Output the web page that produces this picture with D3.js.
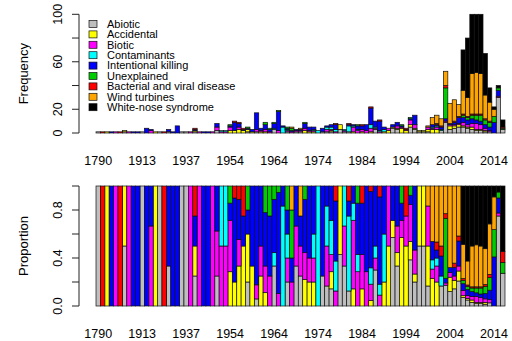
<!DOCTYPE html>
<html>
<head>
<meta charset="utf-8">
<script src="https://cdn.jsdelivr.net/npm/d3@7"></script>
<style>
  body { margin: 0; background: #fff; }
  text { font-family: "Liberation Sans", Arial, sans-serif; fill: #000; }
</style>
</head>
<body>
<svg id="chart" width="512" height="341"></svg>
<script>
// causes of mortality, bottom to top of each stack
const categories = ['Abiotic', 'Accidental', 'Biotic', 'Contaminants', 'Intentional killing',
  'Unexplained', 'Bacterial and viral disease', 'Wind turbines', 'White-nose syndrome'];
const colors = ['#bebebe', '#ffff00', '#ff00ff', '#00ffff', '#0000ff', '#00cd00', '#ff0000', '#ffa500', '#000000'];

const years = [1790, 1834, 1860, 1874, 1885, 1890, 1896, 1900, 1905, 1909,
  1913, 1915, 1918, 1921, 1925, 1927, 1929, 1931, 1933, 1935,
  1937, 1939, 1941, 1943, 1945, 1947, 1949, 1950, 1951, 1952,
  1954, 1955, 1956, 1957, 1958, 1959, 1960, 1961, 1962, 1963,
  1964, 1965, 1966, 1967, 1968, 1969, 1970, 1971, 1972, 1973,
  1974, 1975, 1976, 1977, 1978, 1979, 1980, 1981, 1982, 1983,
  1984, 1985, 1986, 1987, 1988, 1989, 1990, 1991, 1992, 1993,
  1994, 1995, 1996, 1997, 1998, 1999, 2000, 2001, 2002, 2003,
  2004, 2005, 2006, 2007, 2008, 2009, 2010, 2011, 2012, 2013,
  2014, 2015, 2016];
const tickYears = [1790, 1913, 1937, 1954, 1964, 1974, 1984, 1994, 2004, 2014];

const abiotic = [1,0,0,0,0,0,1,0,0,0, 1,0,0,0,1,0,1,0,0,1, 1,0,1,0,0,0,0,2,0,0,
  0,0,0,0,1,0,1,0,0,0, 3,0,0,1,0,1,1,0,0,0, 0,1,1,1,0,3,1,1,0,0,
  0,0,0,3,0,0,0,4,3,0, 0,5,3,1,1,1,0,0,2,9, 3,4,5,5,4,3,2,2,1,1, 0,30,3];
const accidental = [0,0,1,0,0,0,1,0,0,0, 0,0,0,1,0,0,0,0,0,0, 0,0,1,0,0,0,0,0,0,0,
  2,2,3,2,2,1,0,1,1,0, 0,0,0,0,0,0,0,2,1,1, 0,0,0,1,0,4,0,0,1,0,
  1,0,1,0,0,1,2,1,1,4, 2,2,1,1,1,2,3,3,0,0, 3,2,2,1,1,2,1,1,1,0, 0,0,0];
const biotic = [0,0,0,0,1,0,0,1,0,0, 0,0,2,0,0,0,0,0,0,0, 0,1,0,1,0,0,1,3,1,1,
  3,0,2,0,0,0,2,1,2,1, 0,2,0,1,1,1,1,2,1,1, 0,0,2,1,1,0,1,0,4,2,
  2,2,3,1,1,0,2,0,2,1, 1,4,3,0,0,2,1,2,0,1, 1,1,1,3,2,3,5,4,2,1, 0,1,0];
const contaminants = [0,0,0,0,0,0,0,0,0,0, 0,0,0,0,0,0,0,0,0,0, 0,0,0,0,0,0,0,0,1,1,
  0,0,0,0,0,0,0,0,0,0, 1,0,5,1,0,0,0,0,0,1, 2,0,2,2,2,0,1,5,1,1,
  0,0,3,1,1,2,0,0,0,0, 0,0,0,0,0,0,1,1,1,0, 0,0,0,0,0,0,0,0,0,0, 0,0,0];
const intentional = [0,0,0,1,0,0,0,0,1,1, 0,4,1,0,0,0,2,1,6,0, 0,0,1,0,1,1,0,3,0,0,
  1,7,3,1,1,2,14,2,4,2, 4,16,1,1,1,1,1,4,3,2, 0,3,1,2,4,0,0,1,1,3,
  3,5,14,5,8,2,0,2,3,1, 0,1,8,0,0,0,2,1,2,2, 1,2,5,4,4,4,3,3,3,3, 9,5,0];
const unexplained = [0,0,0,0,0,0,0,0,0,0, 0,0,0,0,0,0,0,0,0,0, 0,0,0,0,0,0,0,0,0,0,
  1,0,0,0,1,0,0,0,2,1, 1,1,0,1,2,0,0,1,0,0, 0,0,0,0,0,0,0,0,0,1,
  0,0,0,0,0,0,0,0,0,1, 0,1,0,0,0,0,0,0,0,26, 0,0,0,2,2,3,4,5,4,4, 5,2,1];
const disease = [0,1,0,0,0,1,0,0,0,0, 0,0,0,0,0,1,0,0,0,0, 0,0,1,0,0,0,0,0,0,0,
  0,1,1,1,0,0,0,0,0,0, 0,0,0,0,0,0,0,0,0,0, 0,0,0,0,1,0,0,1,0,0,
  1,0,1,0,1,0,0,0,0,0, 1,0,0,0,0,0,0,1,1,2, 0,1,1,1,1,1,1,1,1,1, 0,0,1];
const wind = [0,0,0,0,0,0,0,0,0,0, 0,0,0,0,0,0,0,0,0,0, 0,0,0,0,0,0,0,0,0,0,
  0,0,0,0,0,0,0,0,0,0, 0,0,0,0,1,0,1,0,0,0, 0,0,0,0,0,0,0,0,0,0,
  0,0,0,0,0,0,0,0,0,0, 0,0,0,0,0,1,6,7,6,12, 17,18,10,20,16,34,35,34,20,16, 6,0,0];
const wns = [0,0,0,0,0,0,0,0,0,0, 0,0,0,0,0,0,0,0,0,0, 0,0,0,0,0,0,0,0,0,0,
  0,0,0,0,0,0,0,0,0,0, 0,0,0,0,0,0,0,0,0,0, 0,0,0,0,0,0,0,0,0,0,
  0,0,0,0,0,0,0,0,0,0, 0,0,0,0,0,0,0,0,0,0, 0,0,0,34,50,50,49,50,35,12, 2,2,6];

const series = [abiotic, accidental, biotic, contaminants, intentional, unexplained, disease, wind, wns];

// rows for d3.stack
const rows = years.map((yr, i) => {
  let r = { year: yr, idx: i };
  categories.forEach((c, k) => { r[c] = series[k][i]; });
  return r;
});
const propRows = rows.map(r => {
  let tot = d3.sum(categories, c => r[c]);
  let p = { year: r.year, idx: r.idx };
  categories.forEach(c => { p[c] = tot ? r[c] / tot : 0; });
  return p;
});

const svg = d3.select('#chart');
svg.append('rect').attr('width', 512).attr('height', 341).attr('fill', '#fff');

const x = d3.scaleBand().domain(d3.range(years.length)).range([96, 505]).padding(0);
const color = d3.scaleOrdinal().domain(categories).range(colors);
const stack = d3.stack().keys(categories);

function panel(data, y, ticks, tickFmt, shown, title, labelY) {
  let g = svg.append('g');
  let layers = stack(data);

  g.selectAll('g.layer')
    .data(layers)
    .join('g')
      .attr('class', 'layer')
      .attr('fill', d => color(d.key))
    .selectAll('rect')
    .data(d => d)
    .join('rect')
      .attr('x', (d, i) => x(i))
      .attr('width', x.bandwidth())
      .attr('y', d => y(d[1]))
      .attr('height', d => Math.max(0, y(d[0]) - y(d[1])))
      .attr('stroke', '#111')
      .attr('stroke-width', 0.7);

  // R-style y axis
  let yr = y.range();
  g.append('line')
    .attr('x1', 79).attr('x2', 79)
    .attr('y1', y(ticks[0])).attr('y2', y(ticks[ticks.length - 1]))
    .attr('stroke', '#222');
  g.selectAll('line.tick')
    .data(ticks)
    .join('line')
      .attr('class', 'tick')
      .attr('x1', 72).attr('x2', 79)
      .attr('y1', d => y(d)).attr('y2', d => y(d))
      .attr('stroke', '#222');
  g.selectAll('text.ylab')
    .data(shown)
    .join('text')
      .attr('class', 'ylab')
      .attr('transform', d => 'translate(62,' + y(d) + ') rotate(-90)')
      .attr('text-anchor', 'middle')
      .style('font-size', '12.5px')
      .text(tickFmt);

  g.append('text')
    .attr('transform', 'translate(28,' + ((yr[0] + yr[1]) / 2) + ') rotate(-90)')
    .attr('text-anchor', 'middle')
    .style('font-size', '13px')
    .text(title);

  g.selectAll('text.xlab')
    .data(tickYears)
    .join('text')
      .attr('class', 'xlab')
      .attr('x', d => x(years.indexOf(d)) + x.bandwidth() / 2)
      .attr('y', labelY)
      .attr('text-anchor', 'middle')
      .style('font-size', '12.5px')
      .text(d => d);
}

const yTop = d3.scaleLinear().domain([0, 100]).range([133, 14.3]);
const yBot = d3.scaleLinear().domain([0, 1]).range([306, 186]);

panel(rows, yTop, [0, 20, 40, 60, 80, 100], d => d, [0, 20, 60, 100], 'Frequency', 164.5);
panel(propRows, yBot, [0, 0.2, 0.4, 0.6, 0.8, 1], d => d.toFixed(1), [0, 0.4, 0.8], 'Proportion', 337.5);

// legend
const leg = svg.append('g');
categories.forEach((c, i) => {
  let cy = 24 + i * 10.4;
  leg.append('rect')
    .attr('x', 89).attr('y', cy - 3.5)
    .attr('width', 8).attr('height', 7)
    .attr('fill', colors[i])
    .attr('stroke', '#111').attr('stroke-width', 0.7);
  leg.append('text')
    .attr('x', 107).attr('y', cy + 3.8)
    .style('font-size', '11px')
    .text(c);
});
</script>
</body>
</html>
